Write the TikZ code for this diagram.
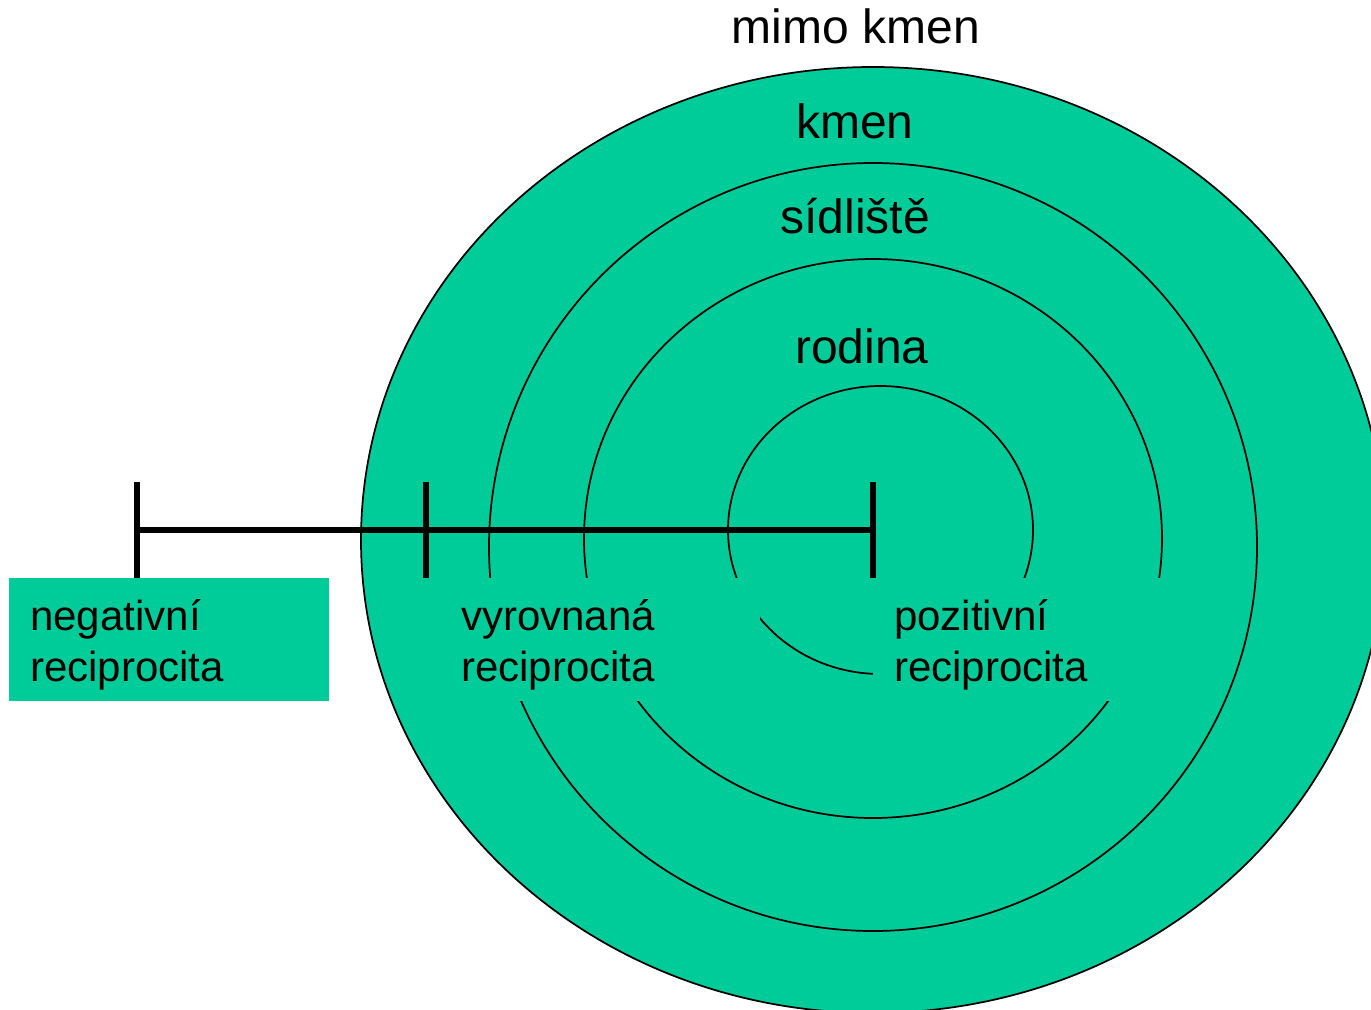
\documentclass[tikz,border=0pt]{standalone}
\usepackage{fontspec}
\setmainfont{Liberation Sans}
\definecolor{zelena}{HTML}{00CC99}

\begin{document}
\begin{tikzpicture}[
    x=0.75pt, y=-0.75pt,
    kruh/.style={line width=1.3pt},
    osa/.style={line width=4pt},
    popis/.style={font=\fontsize{36}{43}\selectfont, inner sep=0pt, anchor=base},
    rec/.style={fill=zelena, anchor=north west, align=left,
      text width=208.5pt, text height=39pt, text depth=53.25pt,
      inner xsep=15.75pt, inner ysep=0pt,
      font=\fontsize{31.5}{38.25}\selectfont},
  ]

  \useasboundingbox (0,0) rectangle (1371,1010);
  \clip (0,0) rectangle (1371,1010);

  % --- soustredne kruhy ---
  \draw[kruh, fill=zelena] (873,540) ellipse [x radius=512, y radius=473];
  \draw[kruh] (873,547) circle [radius=384];
  \draw[kruh] (873,538.5) ellipse [x radius=289, y radius=279.5];
  \draw[kruh] (880.5,530) ellipse [x radius=152.5, y radius=144];

  % --- popisky kruhu ---
  \node[popis] (mimo) at (856,43)  {mimo kmen};
  \node[popis] (kmen) at (855,138) {kmen};
  \node[popis] (sidl) at (855,233) {sídliště};
  \node[popis] (rod)  at (862,363) {rodina};

  % --- typy reciprocity ---
  \node[rec] (neg) at (9,578)   {negativní\\reciprocita};
  \node[rec] (vyr) at (440,578) {vyrovnaná\\reciprocita};
  \node[rec] (poz) at (873,578) {pozitivní\\reciprocita};

  % --- osa se zarazkami ---
  \coordinate (z1) at (137,482);
  \coordinate (z2) at (426,482);
  \coordinate (z3) at (873,482);
  \coordinate (stred) at (0,530);

  \draw[osa] (z1 |- stred) -- (z3 |- stred);
  \draw[osa] (z1) -- (z1 |- neg.north);
  \draw[osa] (z2) -- (z2 |- vyr.north);
  \draw[osa] (z3) -- (z3 |- poz.north);

\end{tikzpicture}
\end{document}
